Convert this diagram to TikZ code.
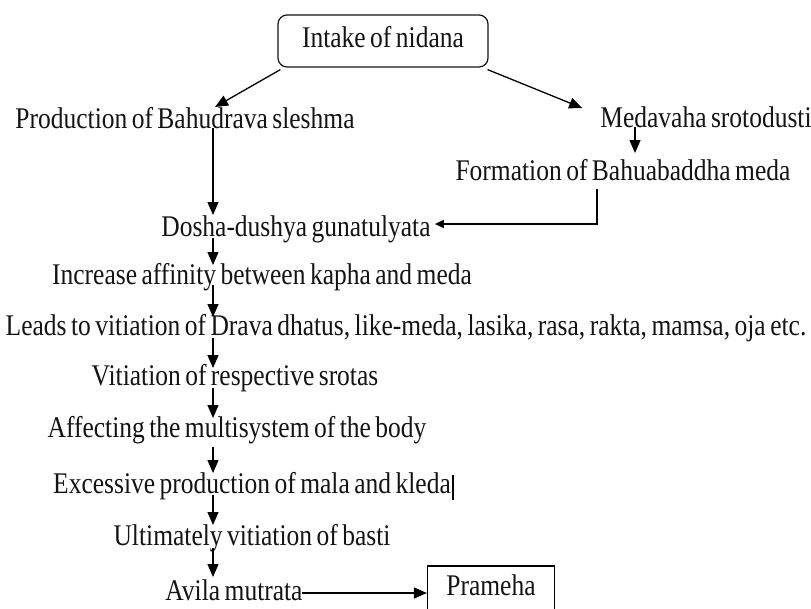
\documentclass[tikz,border=0pt]{standalone}
\usepackage{fontspec}
\setmainfont[FakeStretch=0.85,WordSpace=0.7]{Liberation Serif}
\usetikzlibrary{arrows.meta,calc}
\definecolor{ink}{RGB}{20,20,20}
\begin{document}
\begin{tikzpicture}[x=1pt,y=-1pt,
  txt/.style={inner sep=0pt, anchor=base, text=ink, font=\fontsize{30}{34}\selectfont},
  boxed/.style={draw=ink, line width=1.2pt, inner sep=0pt, text=ink, font=\fontsize{30}{34}\selectfont},
  arr/.style={draw=black, line width=1.3pt, -{Triangle[length=13pt,width=11pt]}},
  sarr/.style={draw=black, line width=1.3pt, -{Triangle[length=9pt,width=8pt]}},
]
\useasboundingbox (0,0) rectangle (811,608);
\fill[white] (0,0) rectangle (811,608);
\coordinate (col) at (213,0);
\coordinate (colm) at (635,0);
\coordinate (colf) at (597,0);

\node[boxed, rounded corners=9pt, minimum width=210pt, minimum height=52pt, text height=16pt, text depth=3pt] (intake) at (383,41) {Intake of nidana};
\node[txt] (prod) at (185,128) {Production of Bahudrava sleshma};
\node[txt] (med) at (706,127) {Medavaha srotodusti};
\node[txt] (form) at (623,180) {Formation of Bahuabaddha meda};
\node[txt] (dosha) at (296,236) {Dosha-dushya gunatulyata};
\node[txt] (inc) at (262,284) {Increase affinity between kapha and meda};
\node[txt] (leads) at (406,335) {Leads to vitiation of Drava dhatus, like-meda, lasika, rasa, rakta, mamsa, oja etc.};
\node[txt] (vit) at (235,385) {Vitiation of respective srotas};
\node[txt] (aff) at (237,437) {Affecting the multisystem of the body};
\node[txt] (exc) at (252,493) {Excessive production of mala and kleda};
\node[txt] (ult) at (252,545) {Ultimately vitiation of basti};
\node[txt] (avila) at (234,600) {Avila mutrata};
\node[boxed, draw=black, minimum width=127pt, minimum height=46pt, text height=17pt, text depth=5pt] (pram) at (491,589) {Prameha};

\draw[arr] ($(intake.south west)+(3,2)$) -- ($(prod.base -| col)+(2,-21)$);
\draw[arr] ($(intake.south east)+(-1,2)$) -- ($(med.base west)+(-18,-19)$);

\draw[arr] (prod.base -| col) -- ($(dosha.base -| col)+(0,-21)$);
\draw[arr] ($(dosha.base -| col)+(0,2)$) -- ($(inc.base -| col)+(0,-19)$);
\draw[arr] ($(inc.base -| col)+(0,1)$) -- ($(leads.base -| col)+(0,-18)$);
\draw[arr] ($(leads.base -| col)+(0,3)$) -- ($(vit.base -| col)+(0,-17)$);
\draw[arr] ($(vit.base -| col)+(0,3)$) -- ($(aff.base -| col)+(0,-19)$);
\draw[arr] ($(aff.base -| col)+(0,10)$) -- ($(exc.base -| col)+(0,-20)$);
\draw[arr] ($(exc.base -| col)+(0,2)$) -- ($(ult.base -| col)+(0,-20)$);
\draw[arr] ($(ult.base -| col)+(0,3)$) -- ($(avila.base -| col)+(0,-23)$);

\draw[arr] (med.base -| colm) -- ($(form.base -| colm)+(0,-27)$);
\draw[sarr] ($(form.base -| colf)+(0,9)$) |- ($(dosha.base east)+(4,-12)$);

\coordinate (s) at ($(avila.base east)+(-1,-7)$);
\draw[arr] (s) -- (s -| pram.west);

\draw[line width=1.2pt] ($(exc.base east)+(2,-18)$) -- ($(exc.base east)+(2,7)$);
\end{tikzpicture}
\end{document}
